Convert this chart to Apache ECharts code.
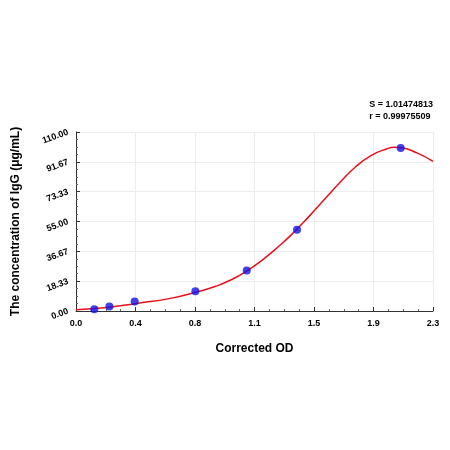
<!DOCTYPE html>
<html><head><meta charset="utf-8">
<script src="https://cdn.jsdelivr.net/npm/echarts@6/dist/echarts.min.js"></script>
<style>html,body{margin:0;padding:0;background:#fff}#c{width:450px;height:450px}</style>
</head><body><div id="c"></div>
<script>
// measured standards
var pointX = [0.118, 0.215, 0.378, 0.769, 1.10, 1.424, 2.092];
var pointY = [1.0, 2.7, 5.8, 12.1, 24.9, 50.0, 100.1];
// fitted curve
var curveX = [0, 0.2, 0.4, 0.6, 0.8, 0.9, 1.0, 1.1, 1.2, 1.3, 1.4, 1.5, 1.6, 1.7, 1.8, 1.9, 2.0, 2.05, 2.1, 2.2, 2.3];
var curveY = [0.8, 2.1, 4.8, 7.6, 12.3, 15.2, 19.2, 24.6, 31.3, 39.2, 48.0, 58.0, 68.5, 79.0, 88.5, 95.5, 99.6, 100.6, 100.3, 97.0, 92.0];
var yTicks = ['0.00', '18.33', '36.67', '55.00', '73.33', '91.67', '110.00'];
var fitText = ['S = 1.01474813', 'r = 0.99975509'];

var font = 'Liberation Sans, Arial, sans-serif';
var chart = echarts.init(document.getElementById('c'));
chart.setOption({
  animation: false,
  textStyle: {fontFamily: font},
  graphic: [{
    type: 'text', right: 17, top: 99,
    style: {text: fitText.join('\n'), font: 'bold 9px ' + font, fill: '#000', align: 'right', lineHeight: 12}
  }],
  grid: {left: 76, right: 17, top: 132, bottom: 139},
  xAxis: {
    type: 'value', min: 0, max: 2.3, interval: 2.3 / 6,
    name: 'Corrected OD', nameLocation: 'middle', nameGap: 32,
    nameTextStyle: {fontSize: 12, fontWeight: 'bold', color: '#000'},
    axisLine: {lineStyle: {color: '#333'}},
    axisTick: {inside: true, length: 4, lineStyle: {color: '#333'}},
    minorTick: {show: true, splitNumber: 4, length: 2, lineStyle: {color: '#666'}},
    axisLabel: {fontSize: 9, fontWeight: 'bold', color: '#000', formatter: function (v) { return v.toFixed(1); }},
    splitLine: {show: true, lineStyle: {color: '#ececec'}}
  },
  yAxis: {
    type: 'value', min: 0, max: 110, interval: 110 / 6,
    name: 'The concentration of IgG (μg/mL)', nameLocation: 'middle', nameGap: 54,
    nameTextStyle: {fontSize: 12, fontWeight: 'bold', color: '#000'},
    axisLine: {show: true, lineStyle: {color: '#333'}},
    axisTick: {show: true, inside: true, length: 4, lineStyle: {color: '#333'}},
    minorTick: {show: true, splitNumber: 4, length: 2, lineStyle: {color: '#666'}},
    axisLabel: {fontSize: 9, fontWeight: 'bold', color: '#000', rotate: 20,
      formatter: function (v) { return yTicks[Math.round(v / (110 / 6))]; }},
    splitLine: {show: true, lineStyle: {color: '#ececec'}}
  },
  series: [{
    type: 'line', smooth: 0.5, symbol: 'none',
    lineStyle: {color: '#e8101a', width: 1.5},
    data: curveX.map(function (x, i) { return [x, curveY[i]]; }),
    z: 2
  }, {
    type: 'scatter', symbolSize: 8,
    itemStyle: {color: '#1010e8'},
    data: pointX.map(function (x, i) { return [x, pointY[i]]; }),
    z: 3
  }]
});
</script></body></html>
